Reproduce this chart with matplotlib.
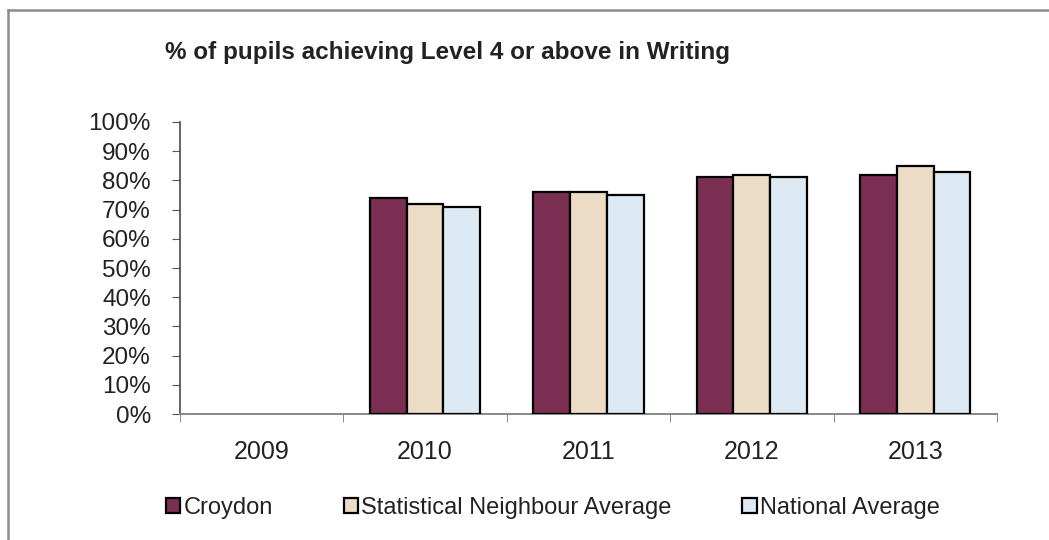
import matplotlib
matplotlib.use("Agg")
import matplotlib.pyplot as plt
from matplotlib.lines import Line2D
from matplotlib.ticker import FuncFormatter
import numpy as np

plt.rcParams["font.family"] = ["Liberation Sans", "DejaVu Sans"]

# Data: % of pupils reaching Level 4+ in Writing (2009 not reported)
years = ["2009", "2010", "2011", "2012", "2013"]
croydon = [np.nan, 74, 76, 81, 82]
stat_neighbour = [np.nan, 72, 76, 82, 85]
national = [np.nan, 71, 75, 81, 83]

series = [
    ("Croydon", croydon, "#7a2f52"),
    ("Statistical Neighbour Average", stat_neighbour, "#ecdcc6"),
    ("National Average", national, "#dde9f3"),
]

fig = plt.figure(figsize=(10.49, 5.4), dpi=100)
ax = fig.add_axes([0.1716, 0.2333, 0.7788, 0.5408])

x = np.arange(len(years))
width = 0.225
for i, (name, vals, color) in enumerate(series):
    ax.bar(x + (i - 1) * width, vals, width, color=color, edgecolor="black",
           linewidth=1.6, label=name, zorder=3)

ax.set_xlim(-0.5, len(years) - 0.5)
ax.set_ylim(0, 100)
ax.set_yticks(np.arange(0, 101, 10))
ax.yaxis.set_major_formatter(FuncFormatter(lambda v, _: f"{v:.0f}%"))
ax.set_xticks(x)
ax.set_xticklabels(years)
ax.set_xticks(np.arange(-0.5, len(years), 1.0), minor=True)

ax.tick_params(axis="x", which="major", length=0, pad=19, labelsize=18, labelcolor="#222222")
ax.tick_params(axis="x", which="minor", length=6, color="#777777", direction="out")
ax.tick_params(axis="y", length=6, color="#555555", pad=15, labelsize=17.5, labelcolor="#222222")

for side in ["top", "right"]:
    ax.spines[side].set_visible(False)
ax.spines["left"].set_color("#5a4050")
ax.spines["bottom"].set_color("#888888")
ax.spines["left"].set_linewidth(1.2)
ax.spines["bottom"].set_linewidth(1.4)

fig.text(0.157, 0.902, "% of pupils achieving Level 4 or above in Writing",
         fontsize=17.5, fontweight="bold", color="#222222", va="center")

fig.legend(loc="center", bbox_to_anchor=(0.527, 0.06), ncol=3, frameon=False,
           fontsize=17, handlelength=0.6, handleheight=0.6, handletextpad=0.15,
           columnspacing=3.0, labelcolor="#222222")

# grey outer border along the top and left
fig.add_artist(Line2D([0.008, 0.008], [0.0, 0.981], color="#8c8c8c", lw=1.8,
                      transform=fig.transFigure))
fig.add_artist(Line2D([0.008, 1.0], [0.981, 0.981], color="#8c8c8c", lw=1.8,
                      transform=fig.transFigure))

fig.savefig("out.png", dpi=100)
